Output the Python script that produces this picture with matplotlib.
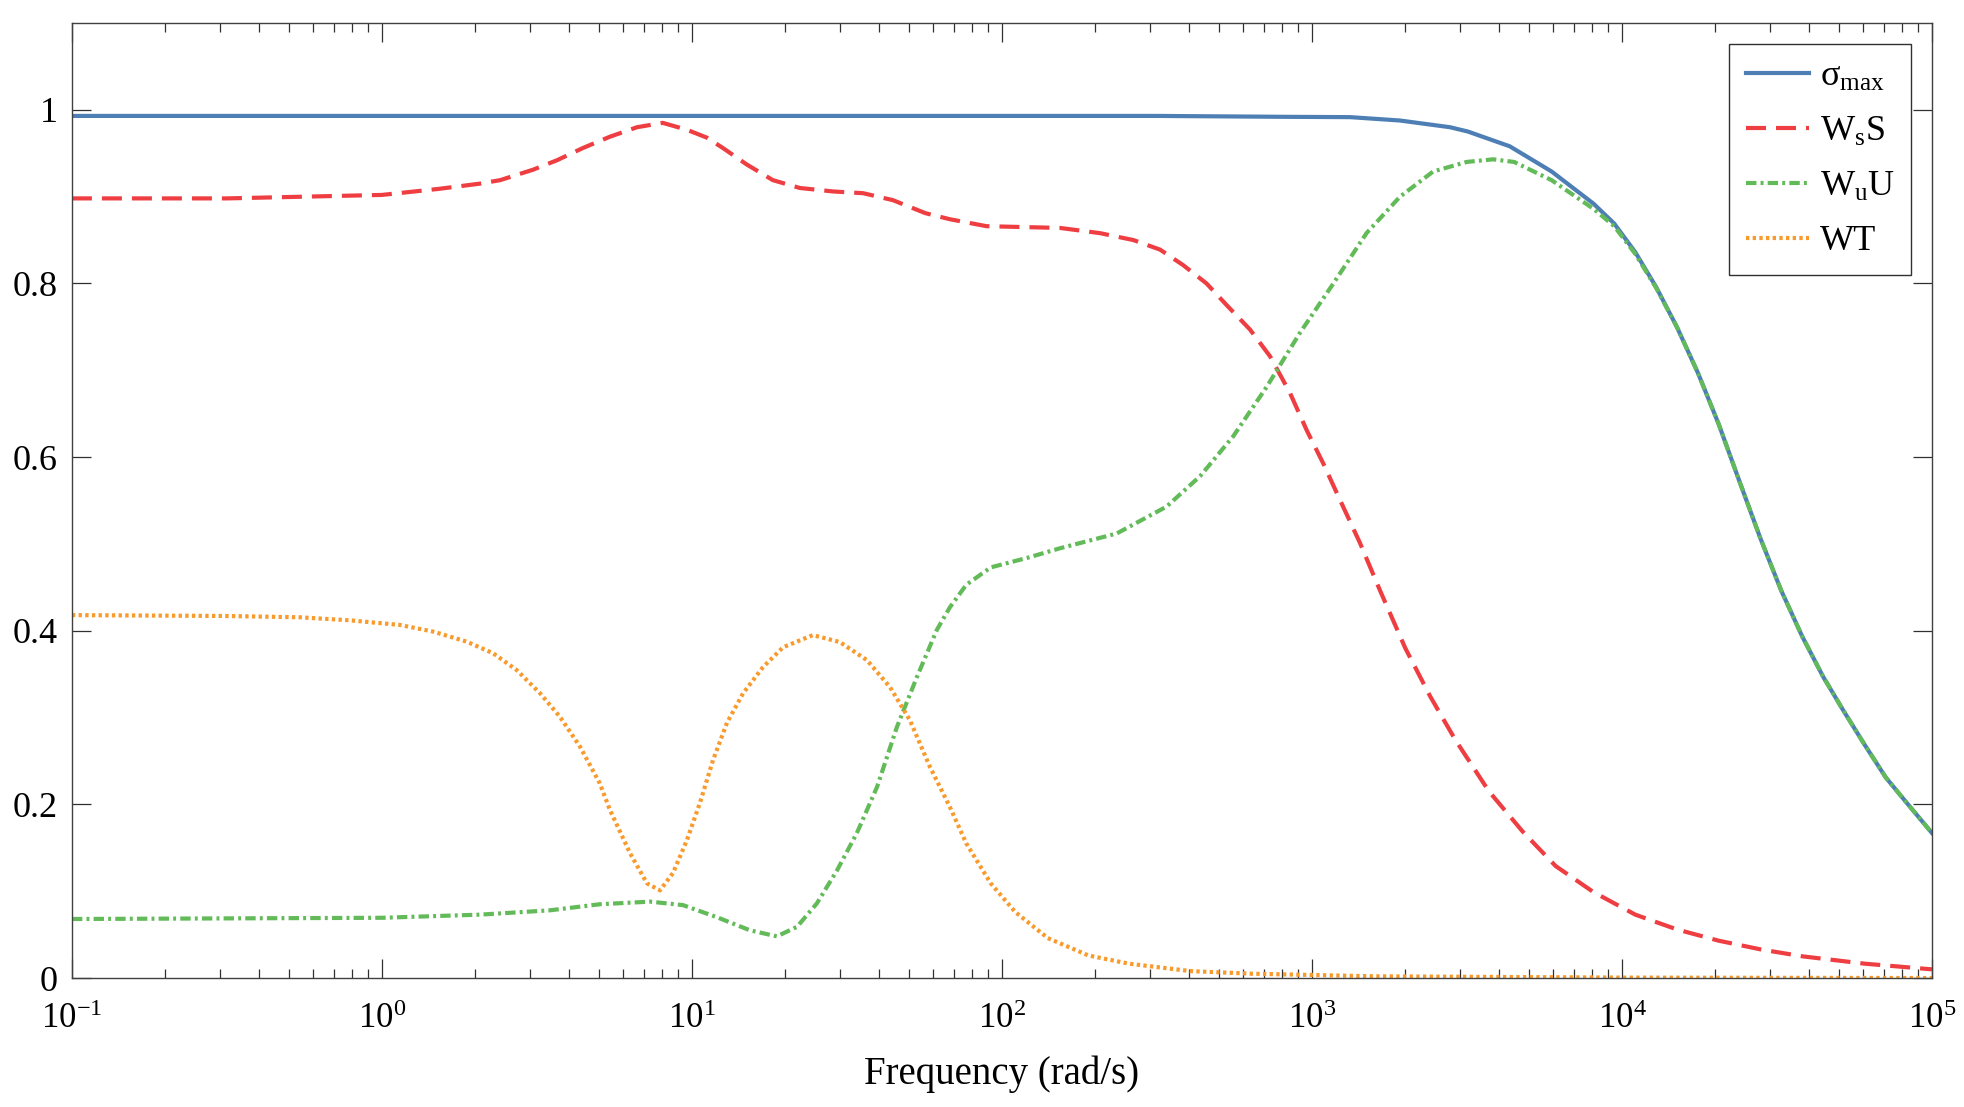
import numpy as np
import matplotlib
matplotlib.use("Agg")
import matplotlib.pyplot as plt
from matplotlib.ticker import LogLocator, FuncFormatter, NullFormatter

plt.rcParams['font.family'] = ['Liberation Serif', 'DejaVu Serif']
plt.rcParams['mathtext.fontset'] = 'custom'
plt.rcParams['mathtext.rm'] = 'Liberation Serif'
plt.rcParams['mathtext.it'] = 'Liberation Serif:italic'
plt.rcParams['mathtext.bf'] = 'Liberation Serif:bold'
plt.rcParams['axes.unicode_minus'] = False

# curves: log10(frequency) and magnitude
logw_sigma = [-1, 2.5, 2.9, 3.123, 3.284, 3.445, 3.503, 3.638, 3.773, 3.908, 3.975,
              4.043, 4.11, 4.177, 4.245, 4.312, 4.379, 4.447, 4.514, 4.582,
              4.649, 4.716, 4.784, 4.851, 4.918, 5.0]
sigma = [0.993, 0.993, 0.992, 0.9916, 0.9877, 0.980, 0.975, 0.958, 0.929, 0.892, 0.869,
         0.836, 0.796, 0.75, 0.697, 0.638, 0.572, 0.506, 0.446, 0.393,
         0.347, 0.307, 0.268, 0.231, 0.202, 0.167]

logw_ws = [-1, -0.5, 0, 0.184, 0.316, 0.381, 0.487, 0.565, 0.648, 0.735, 0.823,
           0.906, 0.984, 1.048, 1.1, 1.177, 1.261, 1.348, 1.455, 1.552, 1.648,
           1.753, 1.832, 1.95, 2.187, 2.316, 2.424, 2.51, 2.585, 2.66, 2.725,
           2.8, 2.865, 2.929, 2.983, 3.036, 3.09, 3.155, 3.22, 3.301, 3.382,
           3.463, 3.571, 3.679, 3.786, 3.908, 4.043, 4.177, 4.312, 4.447, 4.582,
           4.784, 5.0]
ws_s = [0.898, 0.898, 0.902, 0.909, 0.915, 0.919, 0.931, 0.942, 0.956, 0.969, 0.980,
        0.985, 0.977, 0.968, 0.956, 0.937, 0.919, 0.910, 0.906, 0.904, 0.896,
        0.881, 0.874, 0.866, 0.864, 0.858, 0.850, 0.839, 0.821, 0.800, 0.775,
        0.747, 0.716, 0.674, 0.631, 0.593, 0.551, 0.501, 0.446, 0.38, 0.324,
        0.274, 0.215, 0.169, 0.129, 0.099, 0.073, 0.056, 0.043, 0.033, 0.025,
        0.0165, 0.010]

logw_wu = [-1, 0, 0.316, 0.542, 0.703, 0.865, 0.971, 1.081, 1.187, 1.274, 1.339,
           1.403, 1.468, 1.532, 1.597, 1.661, 1.726, 1.79, 1.832, 1.885, 1.964,
           2.082, 2.187, 2.37, 2.531, 2.639, 2.746, 2.854, 2.961, 3.069, 3.176,
           3.284, 3.391, 3.499, 3.585, 3.652, 3.773, 3.908, 3.975, 4.043, 4.11,
           4.177, 4.245, 4.312, 4.379, 4.447, 4.514, 4.582, 4.649, 4.716, 4.784,
           4.851, 4.918, 5.0]
wu_u = [0.068, 0.0694, 0.073, 0.078, 0.085, 0.088, 0.084, 0.070, 0.055, 0.048, 0.059,
        0.086, 0.124, 0.167, 0.220, 0.289, 0.347, 0.401, 0.427, 0.453, 0.473,
        0.484, 0.495, 0.512, 0.543, 0.578, 0.624, 0.681, 0.743, 0.800, 0.858,
        0.900, 0.929, 0.940, 0.943, 0.94, 0.919, 0.886, 0.866, 0.834, 0.795,
        0.75, 0.697, 0.638, 0.572, 0.506, 0.446, 0.393, 0.347, 0.307, 0.268,
        0.231, 0.202, 0.167]

logw_wt = [-1, -0.5, -0.2645, -0.103, 0.058, 0.1656, 0.273, 0.359, 0.4345, 0.51,
           0.574, 0.639, 0.703, 0.735, 0.8, 0.855, 0.897, 0.939, 0.984, 1.026,
           1.068, 1.113, 1.165, 1.229, 1.294, 1.39, 1.477, 1.565, 1.639, 1.703,
           1.768, 1.832, 1.885, 1.964, 2.043, 2.148, 2.279, 2.41, 2.608, 2.805,
           3.2, 4.0, 5.0]
wt = [0.418, 0.417, 0.4155, 0.412, 0.4067, 0.399, 0.3875, 0.374, 0.3548, 0.328,
      0.301, 0.2665, 0.224, 0.194, 0.144, 0.109, 0.101, 0.121, 0.159, 0.202,
      0.251, 0.294, 0.328, 0.358, 0.381, 0.395, 0.387, 0.366, 0.335, 0.297,
      0.243, 0.197, 0.155, 0.109, 0.076, 0.046, 0.026, 0.0165, 0.008, 0.005,
      0.002, 0.0005, 0.0]

labels = [r'$\mathrm{\sigma_{max}}$', r'$\mathrm{W_sS}$', r'$\mathrm{W_uU}$', 'WT']
yticks = [0, 0.2, 0.4, 0.6, 0.8, 1]

fig = plt.figure(figsize=(19.65, 11.07), dpi=100)
ax = fig.add_axes([0.0366, 0.1165, 0.9466, 0.8627])

lw = 3.0
ax.plot(10 ** np.array(logw_sigma), sigma, color='#4d7fb5', lw=lw, label=labels[0])
ax.plot(10 ** np.array(logw_ws), ws_s, color='#ee3e42', lw=lw, dashes=(4.8, 2.4), label=labels[1])
ax.plot(10 ** np.array(logw_wu), wu_u, color='#62bb58', lw=lw, dashes=(2.5, 1.0, 0.7, 1.0), label=labels[2])
ax.plot(10 ** np.array(logw_wt), wt, color='#f99a2c', lw=lw, dashes=(0.8, 0.8), label=labels[3])

ax.set_xscale('log')
ax.set_xlim(1e-1, 1e5)
ax.set_ylim(0, 1.1)
ax.set_yticks(yticks)
ax.yaxis.set_major_formatter(FuncFormatter(lambda v, p: '%g' % v))
ax.xaxis.set_minor_locator(LogLocator(base=10, subs=np.arange(2, 10), numticks=20))
ax.xaxis.set_minor_formatter(NullFormatter())

ax.tick_params(which='both', direction='in', top=True, right=True, color='#303030', width=0.9)
ax.tick_params(which='major', length=13.5)
ax.tick_params(which='minor', length=6.5)
ax.tick_params(axis='y', labelsize=26, pad=10)
ax.tick_params(axis='x', labelsize=25, pad=18)
for s in ax.spines.values():
    s.set_color('#404040')
    s.set_linewidth(1.0)

ax.set_xlabel('Frequency (rad/s)', fontsize=28, labelpad=14)

leg = ax.legend(loc='upper right', bbox_to_anchor=(0.9887, 0.978), borderaxespad=0,
                fontsize=26, handlelength=1.75, frameon=True, fancybox=False,
                framealpha=1, edgecolor='#303030', labelspacing=0.6,
                borderpad=0.45, handletextpad=0.3)
leg.get_frame().set_linewidth(1.0)

fig.savefig('out.png', dpi=100)
